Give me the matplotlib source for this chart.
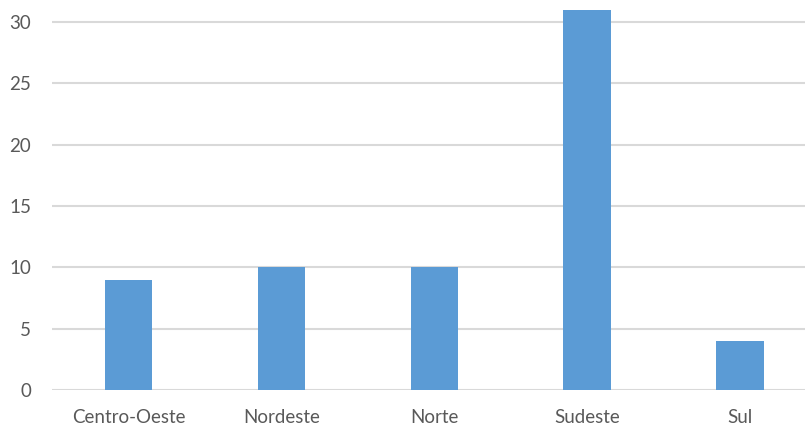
import matplotlib.pyplot as plt

regions = ['Centro-Oeste', 'Nordeste', 'Norte', 'Sudeste', 'Sul']
counts = [9, 10, 10, 31, 4]
yticks = [0, 5, 10, 15, 20, 25, 30]

plt.rcParams['font.family'] = ['Lato', 'DejaVu Sans']

fig = plt.figure(figsize=(8.05, 4.26), dpi=100)
ax = fig.add_axes([52 / 805, 36 / 426, 753 / 805, 390 / 426])

ax.bar(range(len(regions)), counts, width=0.31, color='#5b9bd5', zorder=3)

ax.set_xlim(-0.5, 4.425)
ax.set_ylim(0, 31.79)
ax.set_yticks(yticks)
ax.set_xticks(range(len(regions)))
ax.set_xticklabels(regions)

ax.grid(axis='y', color='#d9d9d9', linewidth=1.5, zorder=0)
ax.set_axisbelow(True)
for s in ax.spines.values():
    s.set_visible(False)
ax.tick_params(axis='both', length=0, labelsize=13.5, colors='#595959')
ax.tick_params(axis='y', pad=15)
ax.tick_params(axis='x', pad=14)

fig.savefig('out.png', dpi=100)
